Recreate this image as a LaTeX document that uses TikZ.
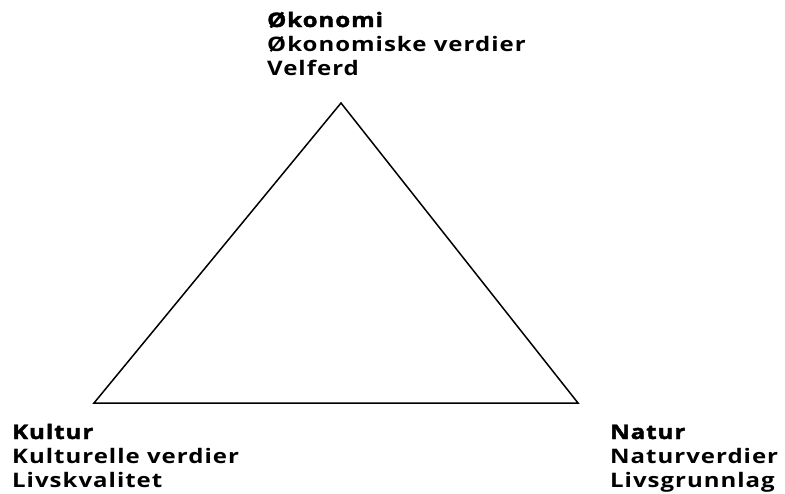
\documentclass[tikz,border=0pt]{standalone}
\usepackage{fontspec}
\setmainfont{Open Sans}[LetterSpace=5,FakeStretch=1.2]
\newfontfamily\hdfont{Open Sans}[LetterSpace=5,FakeStretch=1.2,FakeBold=2]
\begin{document}
\begin{tikzpicture}[x=1pt,y=-1pt,
  lbl/.style={anchor=base west,inner sep=0pt,font=\fontsize{20}{24}\selectfont\bfseries},
  hd/.style={lbl,font=\fontsize{20}{24}\selectfont\hdfont\bfseries}]
\useasboundingbox (0,0) rectangle (785,493);
\coordinate (top) at (341,103);
\coordinate (bl) at (94,403);
\coordinate (br) at (578,403);
\draw[line width=1.5pt,line join=miter] (top) -- (br) -- (bl) -- cycle;
\node[hd] (o1) at (267,27) {Økonomi};
\node[lbl] (o2) at (267,51) {Økonomiske verdier};
\node[lbl] (o3) at (267,75) {Velferd};
\node[hd] (k1) at (12,439) {Kultur};
\node[lbl] (k2) at (12,463) {Kulturelle verdier};
\node[lbl] (k3) at (12,487) {Livskvalitet};
\node[hd] (n1) at (610,439) {Natur};
\node[lbl] (n2) at (610,463) {Naturverdier};
\node[lbl] (n3) at (610,487) {Livsgrunnlag};
\end{tikzpicture}
\end{document}
